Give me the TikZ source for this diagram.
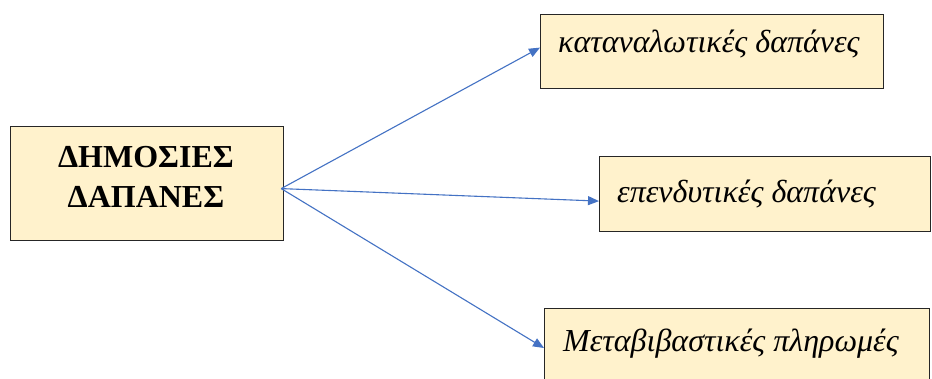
\documentclass[tikz,border=0pt]{standalone}
\usepackage{fontspec}
\setmainfont{Liberation Serif}
\usetikzlibrary{arrows.meta,calc}
\definecolor{boxfill}{HTML}{FFF2CC}
\definecolor{boxline}{HTML}{262626}
\definecolor{arrowblue}{HTML}{4472C4}
\tikzset{
  box/.style={draw=boxline, line width=1.2pt, fill=boxfill, anchor=north west, inner sep=0pt},
  itext/.style={anchor=base west, inner sep=0pt, font=\fontsize{32}{38}\selectfont\itshape},
  btext/.style={inner sep=0pt, align=center, font=\fontsize{32}{40}\selectfont\bfseries},
  conn/.style={draw=arrowblue, line width=1.1pt, -{Triangle[length=11pt,width=9pt]}}
}
\begin{document}
\begin{tikzpicture}[x=1pt,y=-1pt]
\useasboundingbox (0,0) rectangle (932,379);
\clip (0,0) rectangle (932,379);
\fill[white] (0,0) rectangle (932,379);
% boxes
\node[box, minimum width=273pt, minimum height=114pt] (a) at (10,126) {};
\node[box, minimum width=343pt, minimum height=74pt] (t1) at (540,14) {};
\node[box, minimum width=331pt, minimum height=75pt] (t2) at (599,156) {};
\node[box, minimum width=385pt, minimum height=100pt] (t3) at (544,308) {};
% texts
\node[btext] (la) at (146,177) {ΔΗΜΟΣΙΕΣ\\ΔΑΠΑΝΕΣ};
\node[itext] (l1) at (558,53) {καταναλωτικές δαπάνες};
\node[itext] (l2) at (617,203) {επενδυτικές δαπάνες};
\node[itext] (l3) at (563,352) {Μεταβιβαστικές πληρωμές};
% connectors
\coordinate (src) at ($(a.east)+(-3,5)$);
\draw[conn] (src) -- ($(t1.west)+(0,-4)$);
\draw[conn] (src) -- ($(t2.west)+(0,7)$);
\draw[conn] (src) -- ($(t3.north west)+(0,40)$);
\end{tikzpicture}
\end{document}
